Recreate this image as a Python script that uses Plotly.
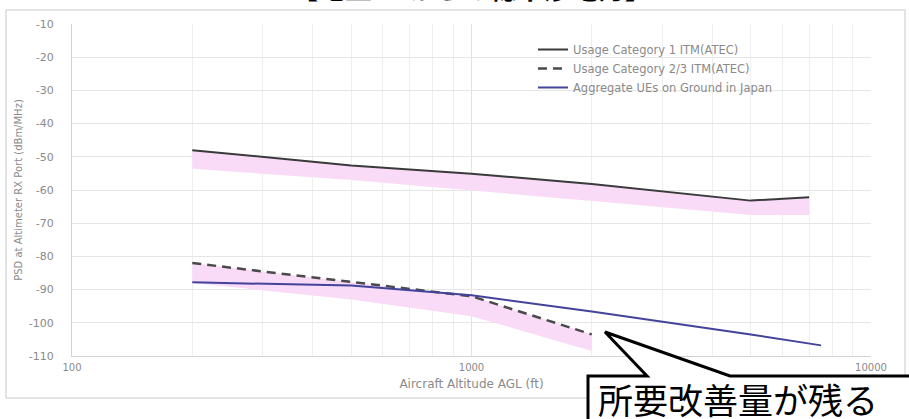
import plotly.graph_objects as go

# ---- data -------------------------------------------------------------
cat1_alt = [200, 500, 1000, 2000, 5000, 7000]
cat1_psd = [-48.0, -52.6, -55.1, -58.2, -63.2, -62.2]
cat1_band_low = [-53.6, -57.0, -60.2, -63.3, -67.5, -67.5]

cat23_alt = [200, 500, 1000, 2000]
cat23_psd = [-82.0, -87.7, -92.0, -103.5]
cat23_band_low = [-88.0, -93.0, -98.0, -108.5]

ue_alt = [200, 500, 1000, 2000, 5000, 7500]
ue_psd = [-87.8, -88.8, -91.7, -96.6, -103.5, -106.8]

x_tick_vals = [100, 1000, 10000]
x_tick_labels = ["100", "1000", "10000"]
y_tick_vals = [-10, -20, -30, -40, -50, -60, -70, -80, -90, -100, -110]
y_tick_labels = ["-10", "-20", "-30", "-40", "-50", "-60", "-70", "-80", "-90", "-100", "-110"]

series_names = [
    "Usage Category 1 ITM(ATEC)",
    "Usage Category 2/3 ITM(ATEC)",
    "Aggregate UEs on Ground in Japan",
]
x_title = "Aircraft Altitude AGL (ft)"
y_title = "PSD at Altimeter RX Port (dBm/MHz)"
title_text = "【地上UEからの総干渉電力】"
callout_text = "所要改善量が残る"

# ---- layout geometry (pixels) ----------------------------------------
W, H = 909, 419
PL, PR, PT, PB = 72, 871, 24, 356


def fx(p):
    return (p - PL) / (PR - PL)


def fy(p):
    return (PB - p) / (PB - PT)


GREY_TXT = "#8a8a8a"
PINK = "#f9dbf8"
FONT = "DejaVu Sans"

fig = go.Figure()

# shaded ranges under the two ATEC curves
fig.add_trace(go.Scatter(
    x=cat1_alt + cat1_alt[::-1], y=cat1_psd + cat1_band_low[::-1],
    fill="toself", fillcolor=PINK, line=dict(width=0),
    mode="lines", showlegend=False, hoverinfo="skip"))
fig.add_trace(go.Scatter(
    x=cat23_alt + cat23_alt[::-1], y=cat23_psd + cat23_band_low[::-1],
    fill="toself", fillcolor=PINK, line=dict(width=0),
    mode="lines", showlegend=False, hoverinfo="skip"))

fig.add_trace(go.Scatter(
    x=cat1_alt, y=cat1_psd, mode="lines", name=series_names[0],
    line=dict(color="#3a3a3a", width=2)))
fig.add_trace(go.Scatter(
    x=cat23_alt, y=cat23_psd, mode="lines", name=series_names[1],
    line=dict(color="#4a4a4a", width=2.5, dash="9px,6px")))
fig.add_trace(go.Scatter(
    x=ue_alt, y=ue_psd, mode="lines", name=series_names[2],
    line=dict(color="#43439a", width=2)))

shapes = [
    # outer chart frame
    dict(type="rect", xref="paper", yref="paper",
         x0=fx(6), x1=fx(905), y0=fy(398), y1=fy(10),
         line=dict(color="#dcdcdc", width=1.5), fillcolor="rgba(0,0,0,0)",
         layer="above"),
]

# callout box with its pointer
pts = [(588, 376), (647, 376), (605, 332), (730, 376), (930, 376),
       (930, 440), (588, 440)]
path = "M " + " L ".join(f"{fx(a):.5f},{fy(b):.5f}" for a, b in pts) + " Z"
shapes.append(dict(type="path", xref="paper", yref="paper", path=path,
                   fillcolor="white", line=dict(color="black", width=3),
                   layer="above"))

annotations = [
    dict(text=callout_text, xref="paper", yref="paper",
         x=fx(596), y=fy(398), xanchor="left", yanchor="middle",
         showarrow=False,
         font=dict(family="Noto Sans CJK JP", size=35, color="black")),
    dict(text="<b>" + title_text + "</b>", xref="paper", yref="paper",
         x=fx(471), y=fy(-12), xanchor="center", yanchor="middle",
         showarrow=False,
         font=dict(family="Noto Sans CJK JP", size=27, color="black")),
]

fig.update_layout(
    width=W, height=H,
    margin=dict(l=PL, r=W - PR, t=PT, b=H - PB, autoexpand=False),
    paper_bgcolor="white", plot_bgcolor="white",
    font=dict(family=FONT, color=GREY_TXT, size=11),
    shapes=shapes, annotations=annotations,
    legend=dict(x=fx(533), y=fy(35), xanchor="left", yanchor="top",
                bgcolor="rgba(0,0,0,0)", borderwidth=0,
                font=dict(family=FONT, size=11.5, color=GREY_TXT),
                tracegroupgap=0, itemwidth=30),
)

fig.update_xaxes(
    type="log", range=[2, 4],
    tickvals=x_tick_vals, ticktext=x_tick_labels,
    showgrid=True, gridcolor="#e2e2e2", gridwidth=1,
    minor=dict(dtick="D1", showgrid=True, gridcolor="#eeeeee", gridwidth=1),
    showline=True, linecolor="#d2d2d2", linewidth=1,
    ticks="", ticklabelstandoff=2,
    tickfont=dict(family=FONT, size=10, color=GREY_TXT),
    title=dict(text=x_title, standoff=7,
               font=dict(family=FONT, size=12, color=GREY_TXT)),
    zeroline=False,
)
fig.update_yaxes(
    range=[-110, -10],
    tickvals=y_tick_vals, ticktext=y_tick_labels,
    showgrid=True, gridcolor="#e6e6e6", gridwidth=1,
    showline=True, linecolor="#d2d2d2", linewidth=1,
    ticks="", ticklabelstandoff=15,
    tickfont=dict(family=FONT, size=11, color=GREY_TXT),
    title=dict(text=y_title, standoff=4,
               font=dict(family=FONT, size=10, color=GREY_TXT)),
    zeroline=False,
)

fig.write_html("out.html")
